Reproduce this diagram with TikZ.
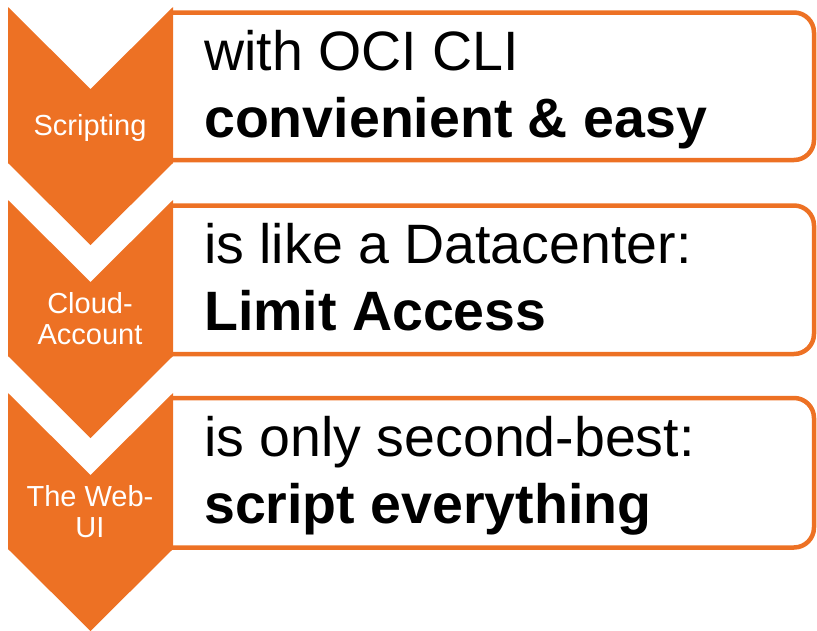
\documentclass[tikz,border=0pt]{standalone}
\usepackage{fontspec}
\setmainfont{Liberation Sans}
\usetikzlibrary{positioning}

\definecolor{ociorange}{RGB}{237,113,36}

\tikzset{
  chevron/.style={fill=ociorange},
  textbox/.style={draw=ociorange, line width=4.5pt, rounded corners=20pt},
  steplabel/.style={text=white, font=\fontsize{29}{31}\selectfont, align=center, inner sep=0pt, anchor=base},
  plainline/.style={font=\fontsize{55.5}{67}\selectfont, inner sep=0pt, anchor=base west},
  boldline/.style={plainline, font=\fontsize{55.5}{67}\selectfont\bfseries},
}

\begin{document}
\begin{tikzpicture}[x=1pt,y=-1pt,node distance=67pt]
  \useasboundingbox (0,0) rectangle (817,630);
  % the three boxes, open on the left side
  \draw[textbox] (171,12.5) -- (814,12.5) -- (814,160) -- (171,160);
  \draw[textbox] (171,205.5) -- (814,205.5) -- (814,354) -- (171,354);
  \draw[textbox] (171,398) -- (814,398) -- (814,547.5) -- (171,547.5);
  % the chevrons
  \fill[chevron] (8,7) -- (90.5,89) -- (173,7) -- (173,163) -- (90.5,245) -- (8,163) -- cycle;
  \fill[chevron] (8,200) -- (90.5,282) -- (173,200) -- (173,356) -- (90.5,438) -- (8,356) -- cycle;
  \fill[chevron] (8,393) -- (90.5,475) -- (173,393) -- (173,549) -- (90.5,631) -- (8,549) -- cycle;
  % labels (base = last line)
  \node[steplabel] (scripting) at (90,135) {Scripting};
  \node[steplabel] (cloud) at (90,344) {Cloud-\\Account};
  \node[steplabel] (webui) at (90,537) {The Web-\\UI};
  % texts
  \node[plainline] (cli) at (204,70) {with OCI CLI};
  \node[boldline, below=of cli.base west, anchor=base west] (cliEasy) {convienient \& easy};
  \node[plainline] (dc) at (204,263) {is like a Datacenter:};
  \node[boldline, below=of dc.base west, anchor=base west] (dcAccess) {Limit Access};
  \node[plainline] (ui) at (204,456) {is only second-best:};
  \node[boldline, below=of ui.base west, anchor=base west] (uiScript) {script everything};
\end{tikzpicture}
\end{document}
